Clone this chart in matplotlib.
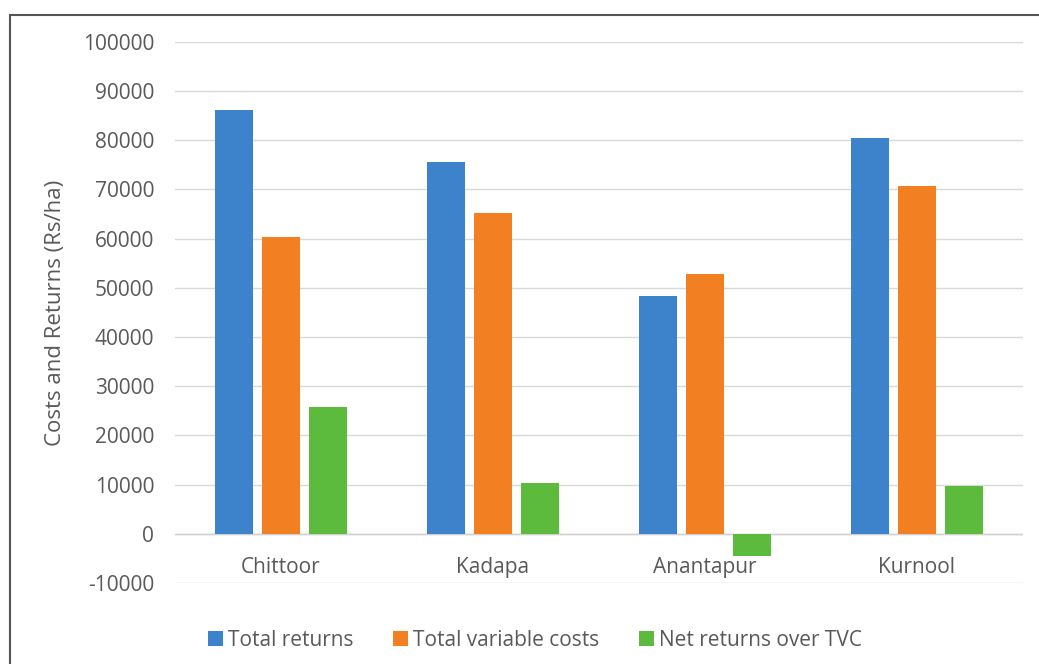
import numpy as np
import matplotlib.pyplot as plt
from matplotlib.patches import Rectangle

districts = ["Chittoor", "Kadapa", "Anantapur", "Kurnool"]
total_returns = [86100, 75500, 48300, 80400]
total_variable_costs = [60300, 65200, 52800, 70700]
net_returns = [25800, 10300, -4500, 9700]

series_names = ["Total returns", "Total variable costs", "Net returns over TVC"]
series_colors = ["#3d83cc", "#f27f22", "#5cbb3c"]
y_ticks = list(range(-10000, 100001, 10000))

plt.rcParams['font.family'] = ['Open Sans', 'DejaVu Sans']
text_color = "#595959"

fig = plt.figure(figsize=(10.39, 6.64), dpi=100)
ax = fig.add_axes([0.1684, 0.122, 0.8162, 0.815])

x = np.arange(len(districts))
width = 0.179
step = 0.222
for i, (vals, name, col) in enumerate(zip([total_returns, total_variable_costs, net_returns],
                                          series_names, series_colors)):
    ax.bar(x + (i - 1) * step, vals, width, color=col, label=name, zorder=3)

ax.set_xlim(-0.5, len(districts) - 0.5)
ax.set_ylim(-10000, 100000)
ax.set_yticks(y_ticks)
ax.set_yticklabels([str(t) for t in y_ticks])
ax.set_xticks(x)
ax.set_xticklabels(districts)

# gridlines and the zero axis line
ax.grid(axis='y', color="#d9d9d9", linewidth=1, zorder=0)
ax.axhline(0, color="#d0d0d0", linewidth=1, zorder=2)
for s in ax.spines.values():
    s.set_visible(False)
ax.tick_params(axis='both', length=0, colors=text_color, labelsize=15)
ax.tick_params(axis='y', pad=15)
# category names sit just under the zero line
ax.tick_params(axis='x', pad=-19)

ax.set_ylabel("Costs and Returns (Rs/ha)", color=text_color, fontsize=16)
ax.yaxis.set_label_coords(-0.128, 0.5)

leg = fig.legend(loc='center', bbox_to_anchor=(0.515, 0.036), ncol=3, frameon=False,
                 fontsize=15, handlelength=0.72, handleheight=0.72, handletextpad=0.25,
                 columnspacing=1.9)
for t in leg.get_texts():
    t.set_color(text_color)

# outer frame of the chart area
fig.patches.append(Rectangle((10 / 1039, -0.1), 1.2, 1 - 15 / 664 + 0.1,
                             transform=fig.transFigure, fill=False,
                             edgecolor="#555555", linewidth=1.5))

fig.savefig("out.png", dpi=100)
